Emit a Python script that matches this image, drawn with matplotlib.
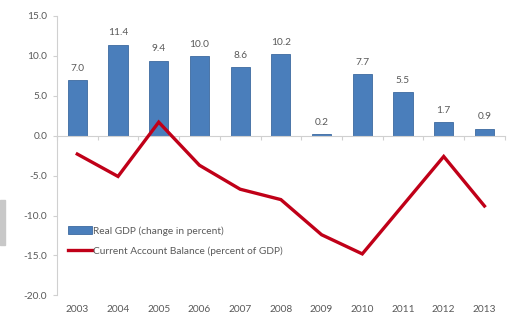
import matplotlib.pyplot as plt
import matplotlib.patches as mpatches
import numpy as np

plt.rcParams['font.family'] = ['Lato', 'DejaVu Sans']

years = ["2003", "2004", "2005", "2006", "2007", "2008", "2009", "2010", "2011", "2012", "2013"]
real_gdp = [7.0, 11.4, 9.4, 10.0, 8.6, 10.2, 0.2, 7.7, 5.5, 1.7, 0.9]
current_account = [-2.3, -5.1, 1.7, -3.7, -6.7, -8.0, -12.4, -14.8, -8.7, -2.6, -8.8]

bar_col = "#4a7ebb"
line_col = "#c00018"
txt_col = "#595959"
axis_col = "#d0d0d0"

fig = plt.figure(figsize=(5.13, 3.25), dpi=100)
ax = fig.add_axes([0.111, 0.091, 0.873, 0.86])

x = np.arange(len(years))
bars = ax.bar(x, real_gdp, width=0.47, color=bar_col, edgecolor="#3c6aa0", linewidth=0.6,
              label="Real GDP (change in percent)", zorder=2)
line, = ax.plot(x, current_account, color=line_col, linewidth=2.4, solid_joinstyle="miter",
                label="Current Account Balance (percent of GDP)", zorder=3)

for xi, v in zip(x, real_gdp):
    ax.text(xi, v + 0.9, f"{v:.1f}", ha="center", va="bottom", fontsize=7.3, color=txt_col)

ax.set_xlim(-0.5, len(years) - 0.5)
ax.set_ylim(-20, 15)
ax.set_yticks(np.arange(-20, 16, 5))
ax.set_yticklabels([f"{v:.1f}" for v in np.arange(-20, 16, 5)])
ax.tick_params(axis="y", labelsize=7.3, colors=txt_col, length=3, color=axis_col, pad=4)

# category axis sits on zero, labels stay at the bottom
for s in ["top", "right"]:
    ax.spines[s].set_visible(False)
ax.spines["left"].set_color(axis_col)
ax.spines["bottom"].set_position(("data", 0))
ax.spines["bottom"].set_color(axis_col)
ax.set_xticks(np.arange(-0.5, len(years), 1.0))
ax.set_xticklabels([])
ax.tick_params(axis="x", length=3, color=axis_col)

sec = ax.secondary_xaxis(0.0)
sec.set_xticks(x)
sec.set_xticklabels(years)
sec.tick_params(length=0, labelsize=7.3, colors=txt_col, pad=7)
sec.spines["bottom"].set_visible(False)

leg = ax.legend(handles=[bars, line], loc="upper left", bbox_to_anchor=(0.01, 0.27),
                frameon=False, fontsize=7.3, labelcolor=txt_col, handlelength=2.4,
                handletextpad=0.1, labelspacing=1.05, borderaxespad=0.2)

# scanning artefact on the left edge
fig.patches.append(mpatches.Rectangle((0, 1 - 245 / 325), 5 / 513, 45 / 325,
                                      transform=fig.transFigure, color="#c8c8c8"))

fig.savefig("out.png", dpi=100)
